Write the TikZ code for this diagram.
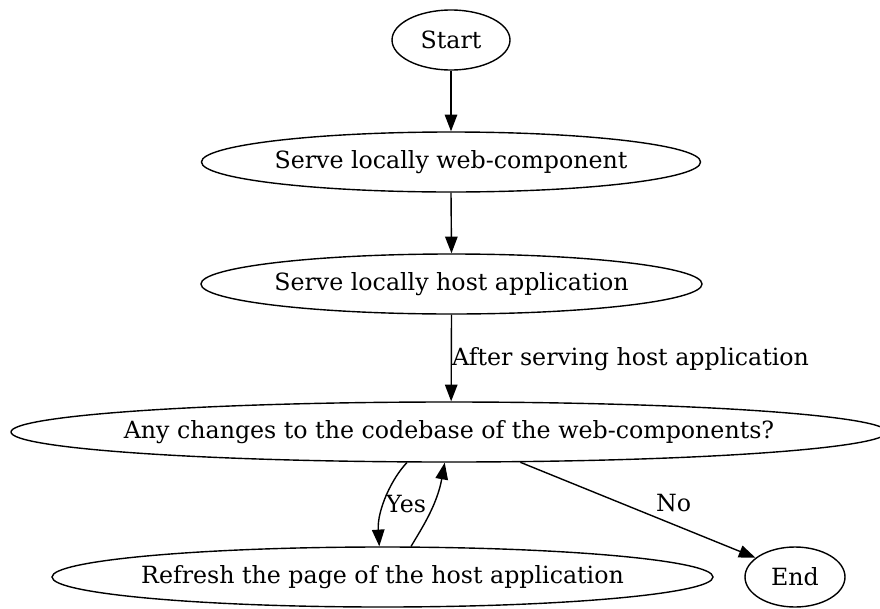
\documentclass[tikz,border=0pt]{standalone}
\usepackage{fontspec}
\setmainfont{DejaVu Serif}
\usetikzlibrary{shapes.geometric,arrows.meta}
\begin{document}
\begin{tikzpicture}[x=1pt,y=-1pt,
  every node/.style={font=\fontsize{23.7}{28}\selectfont},
  state/.style={ellipse,draw,line width=1.4pt,inner sep=0pt,minimum height=60pt},
  link/.style={line width=1.4pt,-{Triangle[length=16.7pt,width=12.5pt]}},
  tag/.style={inner sep=0pt}]
\useasboundingbox (0,0) rectangle (880,608);

% states
\node[state,minimum width=118pt] (start) at (451,40) {Start};
\node[state,minimum width=494pt] (serve1) at (451,162) {Serve locally web-component};
\node[state,minimum width=497pt] (serve2) at (451.5,284) {Serve locally host application};
\node[state,minimum width=876pt,inner xsep=-40pt] (any) at (449,432) {Any changes to the codebase of the web-components?};
\node[state,minimum width=661pt,inner xsep=-20pt] (refresh) at (382.5,577) {Refresh the page of the host application};
\node[state,minimum width=100pt] (end) at (795,577) {End};

% transitions
\draw[link] (start.south) -- (serve1.north);
\draw[link] (serve1.south) -- (serve2.north);
\draw[link] (serve2.south) -- (any.86.2);
\draw[link] (any.216.2) .. controls (392,478) and (377,510) .. (refresh.96.7);
\draw[link] (refresh.47.6) .. controls (422,528) and (437,505) .. (any.262.4);
\draw[link] (any.337.9) -- (end.154.7);

% transition labels
\node[tag,anchor=base west] (lserve) at (452,365) {After serving host application};
\node[tag,anchor=base west] (lyes) at (386,512) {Yes};
\node[tag,anchor=base west] (lno) at (656,511) {No};
\end{tikzpicture}
\end{document}
